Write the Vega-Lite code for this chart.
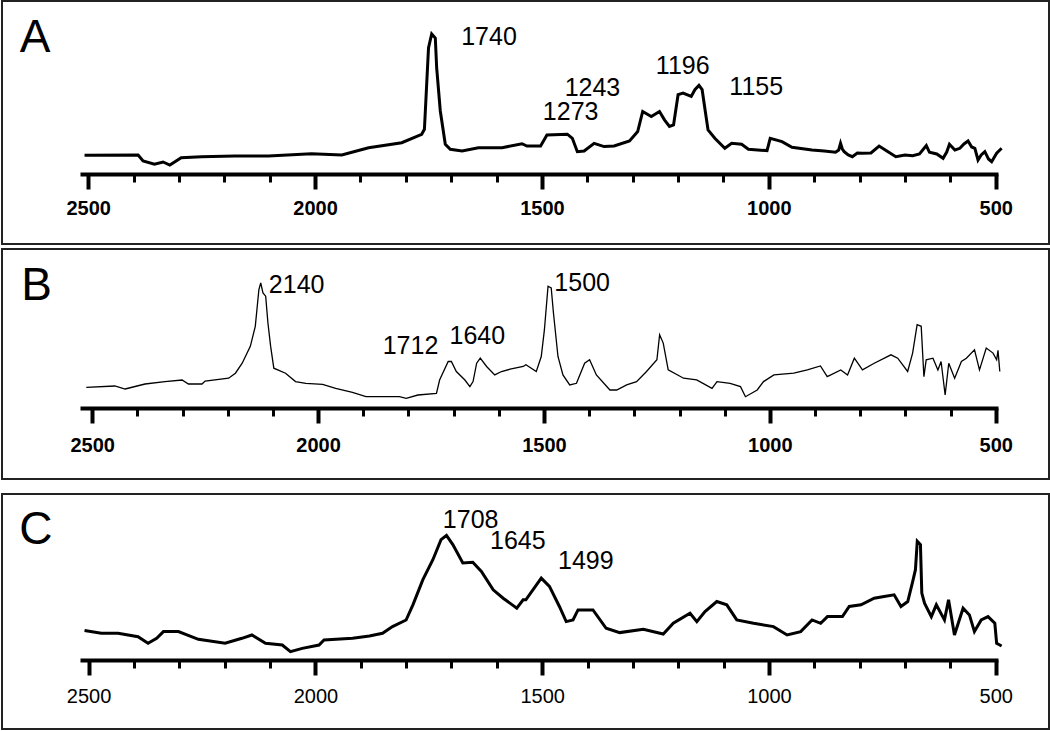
{
  "$schema": "https://vega.github.io/schema/vega-lite/v6.json",
  "background": "white",
  "padding": {"left": 1, "top": 0, "right": 0, "bottom": 0},
  "config": {"view": {"stroke": "#222222", "strokeWidth": 2}},
  "datasets": {
    "specA": [
      {"wavenumber": 2508, "intensity": 18.7}, {"wavenumber": 2390, "intensity": 19}, {"wavenumber": 2379, "intensity": 13},
      {"wavenumber": 2354, "intensity": 9.7}, {"wavenumber": 2335, "intensity": 12}, {"wavenumber": 2320, "intensity": 9},
      {"wavenumber": 2295, "intensity": 16.3}, {"wavenumber": 2250, "intensity": 17.3}, {"wavenumber": 2177, "intensity": 18},
      {"wavenumber": 2103, "intensity": 18}, {"wavenumber": 2008, "intensity": 20.3}, {"wavenumber": 1941, "intensity": 19},
      {"wavenumber": 1882, "intensity": 26.3}, {"wavenumber": 1809, "intensity": 31.3}, {"wavenumber": 1765, "intensity": 39.7},
      {"wavenumber": 1759, "intensity": 44.7}, {"wavenumber": 1750, "intensity": 126}, {"wavenumber": 1743, "intensity": 140},
      {"wavenumber": 1735, "intensity": 136}, {"wavenumber": 1732, "intensity": 106}, {"wavenumber": 1724, "intensity": 63},
      {"wavenumber": 1713, "intensity": 29.7}, {"wavenumber": 1702, "intensity": 24.7}, {"wavenumber": 1676, "intensity": 23},
      {"wavenumber": 1640, "intensity": 26.3}, {"wavenumber": 1588, "intensity": 26.3}, {"wavenumber": 1544, "intensity": 30.3},
      {"wavenumber": 1533, "intensity": 28}, {"wavenumber": 1503, "intensity": 28}, {"wavenumber": 1489, "intensity": 39},
      {"wavenumber": 1444, "intensity": 39.8}, {"wavenumber": 1433, "intensity": 35.7}, {"wavenumber": 1422, "intensity": 22.3},
      {"wavenumber": 1407, "intensity": 23}, {"wavenumber": 1385, "intensity": 30.7}, {"wavenumber": 1363, "intensity": 27.4},
      {"wavenumber": 1341, "intensity": 28}, {"wavenumber": 1307, "intensity": 33}, {"wavenumber": 1289, "intensity": 42.4},
      {"wavenumber": 1278, "intensity": 62.5}, {"wavenumber": 1259, "intensity": 57.5}, {"wavenumber": 1241, "intensity": 62.5},
      {"wavenumber": 1230, "intensity": 54.2}, {"wavenumber": 1219, "intensity": 47.5}, {"wavenumber": 1210, "intensity": 49.1},
      {"wavenumber": 1200, "intensity": 79.3}, {"wavenumber": 1189, "intensity": 81}, {"wavenumber": 1171, "intensity": 77.6},
      {"wavenumber": 1163, "intensity": 84.3}, {"wavenumber": 1154, "intensity": 88.6}, {"wavenumber": 1147, "intensity": 84.3},
      {"wavenumber": 1140, "intensity": 62.5}, {"wavenumber": 1134, "intensity": 44.1}, {"wavenumber": 1119, "intensity": 35.7},
      {"wavenumber": 1097, "intensity": 25.7}, {"wavenumber": 1082, "intensity": 30.7}, {"wavenumber": 1060, "intensity": 29.7},
      {"wavenumber": 1045, "intensity": 24.7}, {"wavenumber": 1004, "intensity": 23.4}, {"wavenumber": 997, "intensity": 35.7},
      {"wavenumber": 971, "intensity": 32.4}, {"wavenumber": 949, "intensity": 26.7}, {"wavenumber": 905, "intensity": 24},
      {"wavenumber": 878, "intensity": 23}, {"wavenumber": 853, "intensity": 21.7}, {"wavenumber": 846, "intensity": 24},
      {"wavenumber": 842, "intensity": 30.7}, {"wavenumber": 838, "intensity": 25}, {"wavenumber": 834, "intensity": 22.3},
      {"wavenumber": 825, "intensity": 19}, {"wavenumber": 816, "intensity": 17.3}, {"wavenumber": 805, "intensity": 21},
      {"wavenumber": 794, "intensity": 20.7}, {"wavenumber": 775, "intensity": 21}, {"wavenumber": 757, "intensity": 28},
      {"wavenumber": 740, "intensity": 23}, {"wavenumber": 720, "intensity": 17.3}, {"wavenumber": 700, "intensity": 19},
      {"wavenumber": 683, "intensity": 18.3}, {"wavenumber": 668, "intensity": 20}, {"wavenumber": 653, "intensity": 28.4},
      {"wavenumber": 646, "intensity": 21.7}, {"wavenumber": 630, "intensity": 20}, {"wavenumber": 616, "intensity": 15.7},
      {"wavenumber": 608, "intensity": 22}, {"wavenumber": 602, "intensity": 29.7}, {"wavenumber": 590, "intensity": 24},
      {"wavenumber": 579, "intensity": 25.7}, {"wavenumber": 570, "intensity": 30}, {"wavenumber": 561, "intensity": 33},
      {"wavenumber": 553, "intensity": 27}, {"wavenumber": 546, "intensity": 25.7}, {"wavenumber": 539, "intensity": 14},
      {"wavenumber": 532, "intensity": 19}, {"wavenumber": 524, "intensity": 22.3}, {"wavenumber": 516, "intensity": 15},
      {"wavenumber": 509, "intensity": 12.3}, {"wavenumber": 498, "intensity": 20.7}, {"wavenumber": 487, "intensity": 25.7}
    ],
    "specB": [
      {"wavenumber": 2513, "intensity": 20.7}, {"wavenumber": 2450, "intensity": 22}, {"wavenumber": 2427, "intensity": 19},
      {"wavenumber": 2383, "intensity": 24}, {"wavenumber": 2339, "intensity": 26.4}, {"wavenumber": 2301, "intensity": 28},
      {"wavenumber": 2287, "intensity": 24}, {"wavenumber": 2257, "intensity": 24}, {"wavenumber": 2250, "intensity": 27},
      {"wavenumber": 2198, "intensity": 29.8}, {"wavenumber": 2183, "intensity": 34.8}, {"wavenumber": 2168, "intensity": 44.8},
      {"wavenumber": 2150, "intensity": 61.6}, {"wavenumber": 2139, "intensity": 81.7}, {"wavenumber": 2131, "intensity": 118.5},
      {"wavenumber": 2127, "intensity": 125.2}, {"wavenumber": 2122, "intensity": 115}, {"wavenumber": 2116, "intensity": 111.8},
      {"wavenumber": 2111, "intensity": 85}, {"wavenumber": 2105, "intensity": 61.6}, {"wavenumber": 2098, "intensity": 39.8},
      {"wavenumber": 2072, "intensity": 34.8}, {"wavenumber": 2050, "intensity": 26.4}, {"wavenumber": 2027, "intensity": 24.7},
      {"wavenumber": 1990, "intensity": 23.7}, {"wavenumber": 1961, "intensity": 19.7}, {"wavenumber": 1924, "intensity": 15.7},
      {"wavenumber": 1894, "intensity": 11.3}, {"wavenumber": 1820, "intensity": 11.3}, {"wavenumber": 1805, "intensity": 9.7},
      {"wavenumber": 1779, "intensity": 13}, {"wavenumber": 1738, "intensity": 14.7}, {"wavenumber": 1731, "intensity": 28},
      {"wavenumber": 1712, "intensity": 46.5}, {"wavenumber": 1705, "intensity": 46.5}, {"wavenumber": 1694, "intensity": 36.5},
      {"wavenumber": 1675, "intensity": 28}, {"wavenumber": 1664, "intensity": 21.4}, {"wavenumber": 1657, "intensity": 26.4},
      {"wavenumber": 1649, "intensity": 44.8}, {"wavenumber": 1641, "intensity": 49.8}, {"wavenumber": 1627, "intensity": 41.5},
      {"wavenumber": 1609, "intensity": 33.1}, {"wavenumber": 1594, "intensity": 36.5}, {"wavenumber": 1575, "intensity": 38.8},
      {"wavenumber": 1546, "intensity": 41.5}, {"wavenumber": 1540, "intensity": 43.2}, {"wavenumber": 1517, "intensity": 36.5},
      {"wavenumber": 1506, "intensity": 51.5}, {"wavenumber": 1499, "intensity": 78.3}, {"wavenumber": 1491, "intensity": 121.8},
      {"wavenumber": 1484, "intensity": 120.2}, {"wavenumber": 1479, "intensity": 95}, {"wavenumber": 1469, "intensity": 51.5},
      {"wavenumber": 1458, "intensity": 33.1}, {"wavenumber": 1443, "intensity": 23.1}, {"wavenumber": 1428, "intensity": 24.7},
      {"wavenumber": 1410, "intensity": 44.8}, {"wavenumber": 1399, "intensity": 48.2}, {"wavenumber": 1384, "intensity": 33.1},
      {"wavenumber": 1354, "intensity": 18}, {"wavenumber": 1339, "intensity": 18}, {"wavenumber": 1317, "intensity": 23.1},
      {"wavenumber": 1295, "intensity": 26.4}, {"wavenumber": 1273, "intensity": 36.5}, {"wavenumber": 1250, "intensity": 48.2},
      {"wavenumber": 1244, "intensity": 73.3}, {"wavenumber": 1236, "intensity": 64.9}, {"wavenumber": 1225, "intensity": 38.1},
      {"wavenumber": 1191, "intensity": 29.8}, {"wavenumber": 1162, "intensity": 28.1}, {"wavenumber": 1128, "intensity": 19.7},
      {"wavenumber": 1117, "intensity": 26.4}, {"wavenumber": 1088, "intensity": 24.7}, {"wavenumber": 1065, "intensity": 21.4},
      {"wavenumber": 1054, "intensity": 11.3}, {"wavenumber": 1028, "intensity": 18}, {"wavenumber": 1014, "intensity": 26.4},
      {"wavenumber": 991, "intensity": 33.1}, {"wavenumber": 947, "intensity": 34.8}, {"wavenumber": 917, "intensity": 38.1},
      {"wavenumber": 888, "intensity": 42.1}, {"wavenumber": 873, "intensity": 31.4}, {"wavenumber": 843, "intensity": 38.1},
      {"wavenumber": 828, "intensity": 33.1}, {"wavenumber": 813, "intensity": 49.8}, {"wavenumber": 795, "intensity": 38.1},
      {"wavenumber": 769, "intensity": 44.8}, {"wavenumber": 732, "intensity": 53.2}, {"wavenumber": 717, "intensity": 49.8},
      {"wavenumber": 695, "intensity": 36.5}, {"wavenumber": 684, "intensity": 54.9}, {"wavenumber": 674, "intensity": 83.3},
      {"wavenumber": 665, "intensity": 81.7}, {"wavenumber": 659, "intensity": 31.4}, {"wavenumber": 654, "intensity": 48.2},
      {"wavenumber": 639, "intensity": 49.8}, {"wavenumber": 628, "intensity": 38.1}, {"wavenumber": 621, "intensity": 46.5},
      {"wavenumber": 612, "intensity": 13}, {"wavenumber": 604, "intensity": 44.8}, {"wavenumber": 591, "intensity": 29.8},
      {"wavenumber": 576, "intensity": 46.5}, {"wavenumber": 565, "intensity": 49.8}, {"wavenumber": 547, "intensity": 58.2},
      {"wavenumber": 536, "intensity": 38.1}, {"wavenumber": 521, "intensity": 59.9}, {"wavenumber": 506, "intensity": 54.9},
      {"wavenumber": 498, "intensity": 48.2}, {"wavenumber": 495, "intensity": 57.6}, {"wavenumber": 491, "intensity": 36.5}
    ],
    "specC": [
      {"wavenumber": 2509, "intensity": 29.4}, {"wavenumber": 2472, "intensity": 26.7}, {"wavenumber": 2435, "intensity": 26.7},
      {"wavenumber": 2391, "intensity": 23.3}, {"wavenumber": 2369, "intensity": 16.7}, {"wavenumber": 2350, "intensity": 21.7},
      {"wavenumber": 2335, "intensity": 28.4}, {"wavenumber": 2302, "intensity": 28.4}, {"wavenumber": 2258, "intensity": 20.7},
      {"wavenumber": 2199, "intensity": 16.7}, {"wavenumber": 2162, "intensity": 21.7}, {"wavenumber": 2140, "intensity": 25},
      {"wavenumber": 2110, "intensity": 16.7}, {"wavenumber": 2073, "intensity": 15}, {"wavenumber": 2055, "intensity": 8.3},
      {"wavenumber": 2029, "intensity": 11.6}, {"wavenumber": 1992, "intensity": 15}, {"wavenumber": 1981, "intensity": 20},
      {"wavenumber": 1918, "intensity": 21.7}, {"wavenumber": 1881, "intensity": 24}, {"wavenumber": 1852, "intensity": 26.7},
      {"wavenumber": 1830, "intensity": 33.4}, {"wavenumber": 1800, "intensity": 40}, {"wavenumber": 1785, "intensity": 55.2},
      {"wavenumber": 1763, "intensity": 80.3}, {"wavenumber": 1741, "intensity": 100.3}, {"wavenumber": 1723, "intensity": 120.4},
      {"wavenumber": 1711, "intensity": 124.5}, {"wavenumber": 1697, "intensity": 115.4}, {"wavenumber": 1675, "intensity": 97},
      {"wavenumber": 1653, "intensity": 97.7}, {"wavenumber": 1634, "intensity": 88.6}, {"wavenumber": 1608, "intensity": 70.2},
      {"wavenumber": 1586, "intensity": 61.8}, {"wavenumber": 1556, "intensity": 51.8}, {"wavenumber": 1542, "intensity": 60.2},
      {"wavenumber": 1536, "intensity": 60.2}, {"wavenumber": 1502, "intensity": 81.9}, {"wavenumber": 1484, "intensity": 73.6},
      {"wavenumber": 1462, "intensity": 53.5}, {"wavenumber": 1447, "intensity": 38.4}, {"wavenumber": 1432, "intensity": 40.1},
      {"wavenumber": 1421, "intensity": 50.1}, {"wavenumber": 1388, "intensity": 50.1}, {"wavenumber": 1359, "intensity": 31.7},
      {"wavenumber": 1329, "intensity": 27.4}, {"wavenumber": 1277, "intensity": 30.7}, {"wavenumber": 1233, "intensity": 26},
      {"wavenumber": 1211, "intensity": 36.7}, {"wavenumber": 1174, "intensity": 46.8}, {"wavenumber": 1159, "intensity": 38.4},
      {"wavenumber": 1141, "intensity": 48.5}, {"wavenumber": 1115, "intensity": 58.5}, {"wavenumber": 1093, "intensity": 55.2},
      {"wavenumber": 1071, "intensity": 40.1}, {"wavenumber": 1034, "intensity": 36.7}, {"wavenumber": 990, "intensity": 33.4},
      {"wavenumber": 960, "intensity": 25}, {"wavenumber": 930, "intensity": 28.4}, {"wavenumber": 905, "intensity": 40.1},
      {"wavenumber": 886, "intensity": 36.7}, {"wavenumber": 871, "intensity": 43.4}, {"wavenumber": 838, "intensity": 43.4},
      {"wavenumber": 823, "intensity": 53.5}, {"wavenumber": 797, "intensity": 55.2}, {"wavenumber": 768, "intensity": 61.8},
      {"wavenumber": 746, "intensity": 63.5}, {"wavenumber": 724, "intensity": 65.2}, {"wavenumber": 709, "intensity": 53.5},
      {"wavenumber": 694, "intensity": 58.5}, {"wavenumber": 683, "intensity": 78.6}, {"wavenumber": 677, "intensity": 90.3},
      {"wavenumber": 673, "intensity": 118.8}, {"wavenumber": 666, "intensity": 115.4}, {"wavenumber": 663, "intensity": 66.9},
      {"wavenumber": 657, "intensity": 56.8}, {"wavenumber": 642, "intensity": 43.4}, {"wavenumber": 631, "intensity": 55.2},
      {"wavenumber": 613, "intensity": 40.1}, {"wavenumber": 604, "intensity": 60.2}, {"wavenumber": 591, "intensity": 25},
      {"wavenumber": 572, "intensity": 51.8}, {"wavenumber": 558, "intensity": 45.1}, {"wavenumber": 547, "intensity": 28.4},
      {"wavenumber": 532, "intensity": 40.1}, {"wavenumber": 517, "intensity": 43.4}, {"wavenumber": 502, "intensity": 36.7},
      {"wavenumber": 498, "intensity": 16.7}, {"wavenumber": 487, "intensity": 14}
    ],
    "peaks": [
      {"panel": "A", "wavenumber": 1678, "intensity": 137, "label": "1740"},
      {"panel": "A", "wavenumber": 1450, "intensity": 86, "label": "1243"},
      {"panel": "A", "wavenumber": 1498, "intensity": 62, "label": "1273"},
      {"panel": "A", "wavenumber": 1249, "intensity": 108, "label": "1196"},
      {"panel": "A", "wavenumber": 1087, "intensity": 87.5, "label": "1155"},
      {"panel": "B", "wavenumber": 2109, "intensity": 122.7, "label": "2140"},
      {"panel": "B", "wavenumber": 1857, "intensity": 61.6, "label": "1712"},
      {"panel": "B", "wavenumber": 1709, "intensity": 72, "label": "1640"},
      {"panel": "B", "wavenumber": 1477, "intensity": 125.2, "label": "1500"},
      {"panel": "C", "wavenumber": 1719, "intensity": 140, "label": "1708"},
      {"panel": "C", "wavenumber": 1615, "intensity": 119, "label": "1645"},
      {"panel": "C", "wavenumber": 1465, "intensity": 98.7, "label": "1499"}
    ],
    "panels": [
      {"panel": "A", "wavenumber": 2651, "intensity": 136.5},
      {"panel": "B", "wavenumber": 2657, "intensity": 121.8},
      {"panel": "C", "wavenumber": 2653, "intensity": 129.6}
    ]
  },
  "spacing": 13,
  "vconcat": [
    {
      "spacing": 3,
      "vconcat": [
        {
          "width": 1047,
          "height": 243,
          "encoding": {
            "x": {"field": "wavenumber", "type": "quantitative",
              "scale": {"domain": [2518, 495], "range": [78, 996], "nice": false, "zero": false},
              "axis": {"orient": "bottom", "offset": -70, "title": null, "grid": false, "format": "d",
                "values": [2500, 2400, 2300, 2200, 2100, 2000, 1900, 1800, 1700, 1600, 1500, 1400, 1300, 1200, 1100, 1000, 900, 800, 700, 600, 500],
                "domainColor": "black", "domainWidth": 4, "tickColor": "black",
                "tickSize": {"condition": {"test": "datum.value % 500 === 0", "value": 15}, "value": 8},
                "tickWidth": {"condition": {"test": "datum.value % 500 === 0", "value": 4}, "value": 3},
                "labelExpr": "datum.value % 500 === 0 ? datum.label : ''",
                "labelFont": "Liberation Sans", "labelFontSize": 20, "labelFontWeight": "bold", "labelColor": "black",
                "labelPadding": 9, "labelFlush": false, "labelOverlap": false}},
            "y": {"field": "intensity", "type": "quantitative", "scale": {"domain": [-70, 173], "nice": false, "zero": false}, "axis": null}
          },
          "layer": [
            {
              "data": {"name": "specA"},
              "mark": {"type": "line", "color": "black", "strokeWidth": 3, "clip": false}
            },
            {
              "data": {"name": "peaks"},
              "transform": [{"filter": "datum.panel === 'A'"}],
              "mark": {"type": "text", "align": "left", "baseline": "middle", "font": "Liberation Sans", "fontSize": 25, "color": "black"},
              "encoding": {"text": {"field": "label"}}
            },
            {
              "data": {"name": "panels"},
              "transform": [{"filter": "datum.panel === 'A'"}],
              "mark": {"type": "text", "align": "left", "baseline": "middle", "font": "Liberation Sans", "fontSize": 46, "color": "black"},
              "encoding": {"text": {"field": "panel"}}
            }
          ]
        },
        {
          "width": 1047,
          "height": 230,
          "encoding": {
            "x": {"field": "wavenumber", "type": "quantitative",
              "scale": {"domain": [2527, 495], "range": [78, 996], "nice": false, "zero": false},
              "axis": {"orient": "bottom", "offset": -71, "title": null, "grid": false, "format": "d",
                "values": [2500, 2400, 2300, 2200, 2100, 2000, 1900, 1800, 1700, 1600, 1500, 1400, 1300, 1200, 1100, 1000, 900, 800, 700, 600, 500],
                "domainColor": "black", "domainWidth": 4, "tickColor": "black",
                "tickSize": {"condition": {"test": "datum.value % 500 === 0", "value": 15}, "value": 8},
                "tickWidth": {"condition": {"test": "datum.value % 500 === 0", "value": 4}, "value": 3},
                "labelExpr": "datum.value % 500 === 0 ? datum.label : ''",
                "labelFont": "Liberation Sans", "labelFontSize": 20, "labelFontWeight": "bold", "labelColor": "black",
                "labelPadding": 12, "labelFlush": false, "labelOverlap": false}},
            "y": {"field": "intensity", "type": "quantitative", "scale": {"domain": [-71, 159], "nice": false, "zero": false}, "axis": null}
          },
          "layer": [
            {
              "data": {"name": "specB"},
              "mark": {"type": "line", "color": "black", "strokeWidth": 1.3, "clip": false}
            },
            {
              "data": {"name": "peaks"},
              "transform": [{"filter": "datum.panel === 'B'"}],
              "mark": {"type": "text", "align": "left", "baseline": "middle", "font": "Liberation Sans", "fontSize": 25, "color": "black"},
              "encoding": {"text": {"field": "label"}}
            },
            {
              "data": {"name": "panels"},
              "transform": [{"filter": "datum.panel === 'B'"}],
              "mark": {"type": "text", "align": "left", "baseline": "middle", "font": "Liberation Sans", "fontSize": 46, "color": "black"},
              "encoding": {"text": {"field": "panel"}}
            }
          ]
        }
      ]
    },
    {
      "width": 1047,
      "height": 235,
      "encoding": {
        "x": {"field": "wavenumber", "type": "quantitative",
          "scale": {"domain": [2519, 495], "range": [78, 996], "nice": false, "zero": false},
          "axis": {"orient": "bottom", "offset": -69, "title": null, "grid": false, "format": "d",
            "values": [2500, 2400, 2300, 2200, 2100, 2000, 1900, 1800, 1700, 1600, 1500, 1400, 1300, 1200, 1100, 1000, 900, 800, 700, 600, 500],
            "domainColor": "black", "domainWidth": 4, "tickColor": "black",
            "tickSize": {"condition": {"test": "datum.value % 500 === 0", "value": 15}, "value": 8},
            "tickWidth": {"condition": {"test": "datum.value % 500 === 0", "value": 4}, "value": 3},
            "labelExpr": "datum.value % 500 === 0 ? datum.label : ''",
            "labelFont": "Liberation Sans", "labelFontSize": 20, "labelFontWeight": "normal", "labelColor": "black",
            "labelPadding": 11, "labelFlush": false, "labelOverlap": false}},
        "y": {"field": "intensity", "type": "quantitative", "scale": {"domain": [-69, 166], "nice": false, "zero": false}, "axis": null}
      },
      "layer": [
        {
          "data": {"name": "specC"},
          "mark": {"type": "line", "color": "black", "strokeWidth": 3, "clip": false}
        },
        {
          "data": {"name": "peaks"},
          "transform": [{"filter": "datum.panel === 'C'"}],
          "mark": {"type": "text", "align": "left", "baseline": "middle", "font": "Liberation Sans", "fontSize": 25, "color": "black"},
          "encoding": {"text": {"field": "label"}}
        },
        {
          "data": {"name": "panels"},
          "transform": [{"filter": "datum.panel === 'C'"}],
          "mark": {"type": "text", "align": "left", "baseline": "middle", "font": "Liberation Sans", "fontSize": 46, "color": "black"},
          "encoding": {"text": {"field": "panel"}}
        }
      ]
    }
  ]
}
